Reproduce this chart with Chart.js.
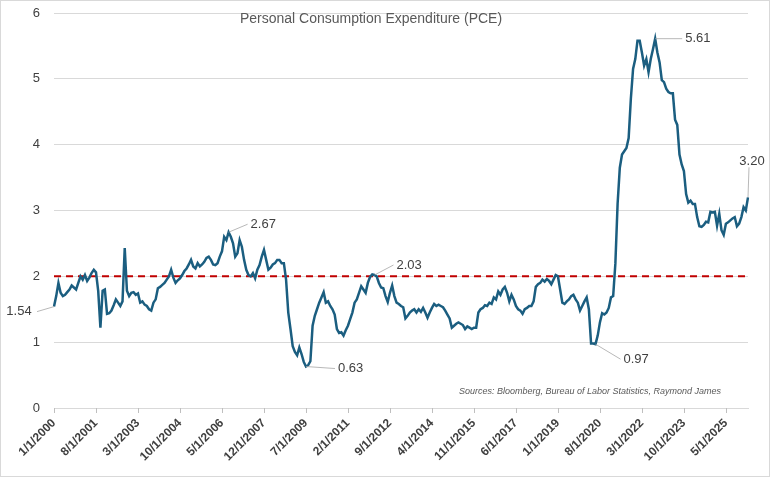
<!DOCTYPE html>
<html>
<head>
<meta charset="utf-8">
<script src="https://cdn.jsdelivr.net/npm/chart.js@4"></script>
<style>
  body { margin: 0; background: #fff; }
  #wrap { width: 768px; height: 475px; border: 1px solid #d9d9d9; }
</style>
</head>
<body>
<div id="wrap"><canvas id="grafico" width="768" height="475"></canvas></div>
<script>
// Valores mensuales del PCE, enero 2000 en adelante
const pce = [
  1.54,1.70,1.90,1.75,1.70,1.72,1.76,1.80,1.86,1.83,1.80,1.90,
  2.00,1.95,2.02,1.93,1.98,2.05,2.10,2.06,1.78,1.22,1.78,1.80,
  1.43,1.44,1.48,1.56,1.65,1.60,1.55,1.62,2.43,1.78,1.70,1.75,
  1.76,1.72,1.74,1.60,1.62,1.57,1.55,1.50,1.48,1.60,1.65,1.82,
  1.84,1.87,1.90,1.95,2.00,2.10,1.98,1.90,1.94,1.97,2.02,2.08,
  2.12,2.18,2.25,2.15,2.12,2.20,2.15,2.18,2.22,2.28,2.30,2.25,
  2.18,2.17,2.20,2.30,2.38,2.60,2.55,2.67,2.60,2.50,2.30,2.35,
  2.55,2.45,2.25,2.10,2.02,2.00,2.05,1.97,2.10,2.17,2.30,2.40,
  2.25,2.10,2.13,2.18,2.20,2.25,2.25,2.20,2.20,1.95,1.45,1.20,
  0.94,0.85,0.80,0.92,0.82,0.70,0.63,0.65,0.71,1.25,1.40,1.50,
  1.60,1.68,1.76,1.60,1.62,1.55,1.50,1.42,1.20,1.14,1.15,1.10,
  1.18,1.25,1.35,1.45,1.60,1.65,1.75,1.85,1.80,1.75,1.90,1.99,
  2.03,2.02,2.00,1.90,1.83,1.82,1.70,1.61,1.75,1.86,1.70,1.60,
  1.58,1.55,1.53,1.36,1.40,1.45,1.48,1.50,1.45,1.50,1.46,1.52,
  1.45,1.37,1.45,1.52,1.58,1.55,1.57,1.55,1.53,1.48,1.42,1.36,
  1.22,1.25,1.28,1.30,1.28,1.26,1.20,1.24,1.22,1.20,1.22,1.22,
  1.45,1.50,1.52,1.56,1.55,1.60,1.58,1.68,1.65,1.77,1.72,1.80,
  1.84,1.75,1.62,1.72,1.65,1.55,1.50,1.48,1.43,1.50,1.52,1.55,
  1.55,1.62,1.84,1.88,1.90,1.95,1.92,1.96,1.93,1.88,1.95,2.02,
  2.00,1.80,1.60,1.58,1.62,1.65,1.70,1.72,1.65,1.60,1.48,1.55,
  1.62,1.68,1.50,0.98,0.98,0.97,1.10,1.30,1.44,1.42,1.45,1.52,
  1.68,1.70,2.20,3.10,3.65,3.85,3.90,3.95,4.10,4.70,5.15,5.30,
  5.58,5.58,5.40,5.20,5.30,5.10,5.30,5.45,5.61,5.40,5.25,4.98,
  4.95,4.85,4.80,4.78,4.78,4.38,4.30,3.85,3.70,3.60,3.25,3.12,
  3.15,3.10,3.10,2.90,2.76,2.75,2.78,2.83,2.82,2.98,2.97,2.98,
  2.77,2.95,2.70,2.63,2.80,2.82,2.85,2.88,2.90,2.76,2.80,2.90,
  3.05,3.00,3.20
];
const objetivo = 2; // línea de referencia (meta de la Fed)
const anioInicio = 2000;
const pasoEtiquetas = 19; // una etiqueta cada 19 meses
// puntos anotados: [índice, texto, dx, dy] desplazamiento de la etiqueta
const anotaciones = [
  [0, '1.54', -35, 5],
  [79, '2.67', 22, -8],
  [114, '0.63', 32, 2],
  [145, '2.03', 22, -10],
  [245, '0.97', 28, 15],
  [272, '5.61', 30, 0],
  [314, '3.20', 4, -30]
];

const etiquetas = pce.map((v, i) => {
  const m = i % 12 + 1, a = anioInicio + Math.floor(i / 12);
  return m + '/1/' + a;
});

const textoPlugin = {
  id: 'textos',
  afterDatasetsDraw(chart) {
    const ctx = chart.ctx, x = chart.scales.x, y = chart.scales.y;
    ctx.save();
    // marcas del eje x en las fechas con etiqueta
    ctx.strokeStyle = '#bfbfbf';
    ctx.lineWidth = 1;
    for (let i = 0; i < pce.length; i += pasoEtiquetas) {
      const px = Math.round(x.getPixelForValue(i)) + 0.5;
      ctx.beginPath();
      ctx.moveTo(px, x.top);
      ctx.lineTo(px, x.top + 5);
      ctx.stroke();
    }
    ctx.font = '14px "Liberation Sans", Arial';
    ctx.fillStyle = '#595959';
    ctx.textAlign = 'center';
    ctx.textBaseline = 'middle';
    ctx.fillText('Personal Consumption Expenditure (PCE)', 370, 18);
    ctx.font = 'italic 9px "Liberation Sans", Arial';
    ctx.textAlign = 'right';
    ctx.fillText('Sources: Bloomberg, Bureau of Labor Statistics, Raymond James', 720, 390);
    ctx.font = '13px "Liberation Sans", Arial';
    ctx.fillStyle = '#404040';
    anotaciones.forEach(([i, t, dx, dy]) => {
      const px = x.getPixelForValue(i), py = y.getPixelForValue(pce[i]);
      const lx = px + dx, ly = py + dy;
      ctx.strokeStyle = '#a6a6a6';
      ctx.lineWidth = 0.8;
      ctx.beginPath();
      ctx.moveTo(px, py);
      ctx.lineTo(dx < 0 ? lx + 18 : lx - 3, ly);
      ctx.stroke();
      if (i === 314) { ctx.textAlign = 'center'; ctx.fillText(t, lx, ly - 6); }
      else { ctx.textAlign = dx < 0 ? 'center' : 'left'; ctx.fillText(t, lx, ly); }
    });
    ctx.restore();
  }
};

new Chart(document.getElementById('grafico'), {
  type: 'line',
  data: {
    labels: etiquetas,
    datasets: [{
      data: pce,
      borderColor: '#1b5e80',
      borderWidth: 2.5,
      pointRadius: 0,
      tension: 0
    }, {
      data: pce.map(() => objetivo),
      borderColor: '#c00000',
      borderWidth: 2,
      borderDash: [7, 5],
      pointRadius: 0
    }]
  },
  options: {
    responsive: false,
    animation: false,
    layout: { autoPadding: false, padding: { top: 12, right: 21, left: 0, bottom: 0 } },
    plugins: { legend: { display: false }, tooltip: { enabled: false } },
    scales: {
      x: {
        offset: false,
        grid: { display: false, tickLength: 5 },
        border: { color: '#d9d9d9' },
        afterFit(s) { s.height = 68; s.paddingLeft = 0; s.paddingRight = 0; },
        ticks: {
          autoSkip: false,
          maxRotation: 45,
          minRotation: 45,
          color: '#404040',
          font: { size: 12, weight: 'bold', family: '"Liberation Sans Narrow", "Liberation Sans", Arial' },
          callback(v, i) { return i % pasoEtiquetas === 0 ? etiquetas[i] : null; }
        }
      },
      y: {
        min: 0, max: 6,
        afterFit(s) { s.width = 53; s.paddingTop = 0; s.paddingBottom = 0; },
        grid: { color: '#d9d9d9', drawTicks: false },
        border: { display: false },
        ticks: {
          stepSize: 1, padding: 14, color: '#404040',
          font: { size: 13, family: '"Liberation Sans", Arial' }
        }
      }
    }
  },
  plugins: [textoPlugin]
});
</script>
</body>
</html>
